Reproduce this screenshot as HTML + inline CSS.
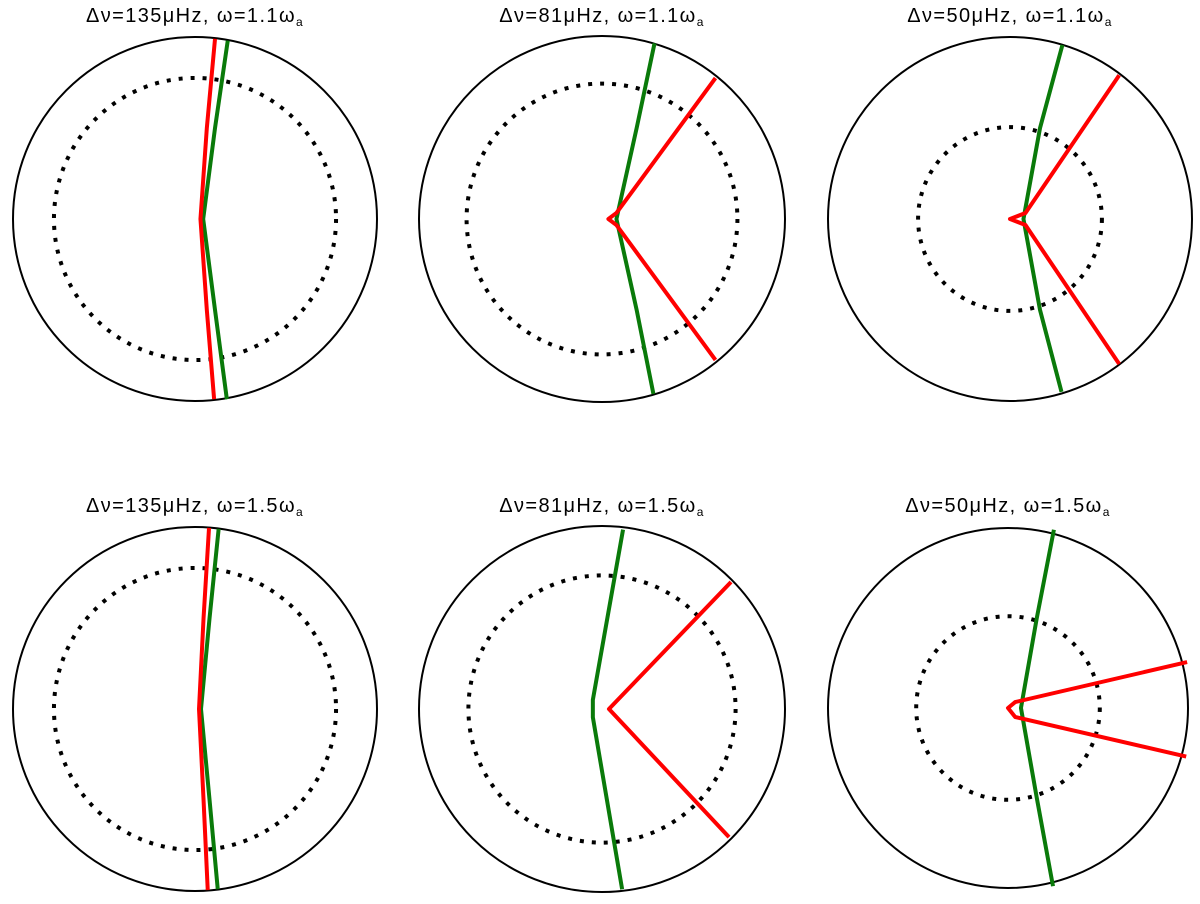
<!DOCTYPE html>
<html><head><meta charset="utf-8"><style>
html,body{margin:0;padding:0;background:#fff;}
svg{display:block;}
text{font-family:"Liberation Sans",sans-serif;font-size:20px;letter-spacing:1.4px;fill:#000;}
</style></head><body>
<svg id="fig" width="1200" height="904" viewBox="0 0 1200 904" xmlns="http://www.w3.org/2000/svg"></svg>
<script>
// Panel data (normalized units: outer radius = 1, y up)
const panelTitlesDnu = ["135", "81", "50", "135", "81", "50"];
const panelTitlesOmega = ["1.1", "1.1", "1.1", "1.5", "1.5", "1.5"];
const innerRadius = [0.775, 0.74, 0.505, 0.775, 0.73, 0.51];
const redLines = [
  [[0.11,0.99],[0.065,0.5],[0.03,0],[0.065,-0.5],[0.105,-0.99]],
  [[0.62,0.77],[0.079,0.033],[0.035,0],[0.079,-0.033],[0.62,-0.77]],
  [[0.6,0.79],[0.085,0.033],[0.0,0.0],[0.085,-0.033],[0.6,-0.797]],
  [[0.077,0.995],[0.047,0.5],[0.022,0],[0.047,-0.5],[0.07,-0.995]],
  [[0.705,0.694],[0.038,0],[0.694,-0.70]],
  [[0.995,0.255],[0.04,0.033],[0.0,0.0],[0.04,-0.05],[0.99,-0.27]]
];
const greenLines = [
  [[0.18,0.98],[0.11,0.5],[0.045,0],[0.11,-0.5],[0.175,-0.99]],
  [[0.287,0.96],[0.19,0.5],[0.079,0],[0.19,-0.5],[0.281,-0.956]],
  [[0.288,0.956],[0.165,0.5],[0.074,0],[0.165,-0.5],[0.283,-0.95]],
  [[0.13,0.99],[0.08,0.5],[0.033,0],[0.08,-0.5],[0.125,-0.99]],
  [[0.115,0.98],[-0.05,0.05],[-0.05,-0.045],[0.11,-0.985]],
  [[0.255,0.99],[0.16,0.5],[0.072,0],[0.16,-0.5],[0.25,-0.99]]
];
// Layout
const centersX = [195, 602, 1010, 195, 602, 1008];
const centersY = [219, 219, 219, 709, 709, 708];
const radii = [182, 183, 182, 182, 183, 180];
const titleY = [22, 22, 22, 512, 512, 512];

const NS = "http://www.w3.org/2000/svg";
const svg = document.getElementById("fig");
function mk(tag, attrs){ const e=document.createElementNS(NS,tag); for(const k in attrs) e.setAttribute(k,attrs[k]); return e; }

for(let i=0;i<6;i++){
  const cx=centersX[i], cy=centersY[i], R=radii[i];
  const sx=v=>cx+v*R, sy=v=>cy-v*R;
  const g=mk("g",{});
  
  
  svg.appendChild(g);

  const t=mk("text",{x:cx,y:titleY[i],"text-anchor":"middle"});
  
  
  t.innerHTML="Δν="+panelTitlesDnu[i]+"μHz, ω="+panelTitlesOmega[i]+"ω<tspan font-size='12' dy='4'>a</tspan>";
  g.appendChild(t);

  const outer=mk("circle",{cx:cx,cy:cy,r:R,fill:"none",stroke:"#000","stroke-width":2});
  
  
  g.appendChild(outer);

  const inner=mk("circle",{cx:cx,cy:cy,r:innerRadius[i]*R,fill:"none",stroke:"#000","stroke-width":4,"stroke-dasharray":"4 8"});
  
  
  g.appendChild(inner);

  const gp=mk("polyline",{points:greenLines[i].map(p=>sx(p[0])+","+sy(p[1])).join(" "),fill:"none",stroke:"#0a7a0a","stroke-width":4,"stroke-linejoin":"round"});
  
  
  g.appendChild(gp);

  const rp=mk("polyline",{points:redLines[i].map(p=>sx(p[0])+","+sy(p[1])).join(" "),fill:"none",stroke:"#ff0000","stroke-width":4,"stroke-linejoin":"round"});
  
  
  g.appendChild(rp);
}
</script>
</body></html>
